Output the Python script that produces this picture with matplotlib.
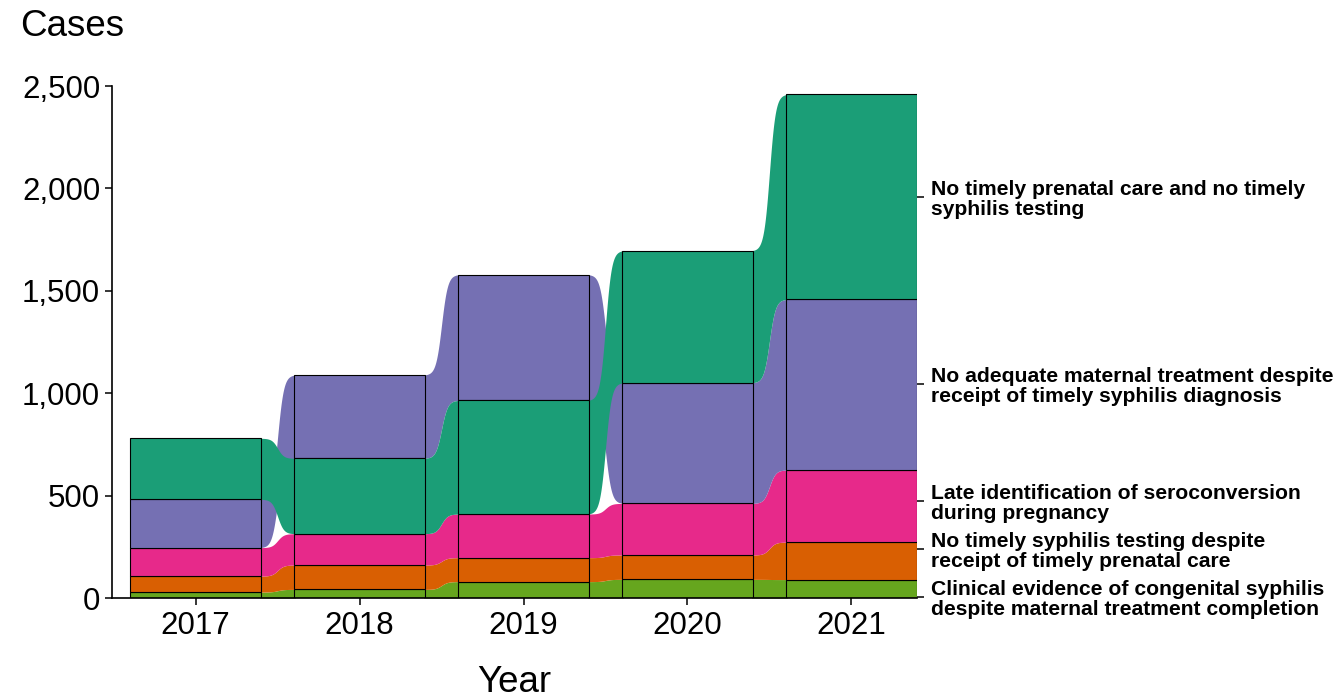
import numpy as np
import matplotlib.pyplot as plt
from matplotlib.ticker import FuncFormatter

plt.rcParams['font.family'] = ['Liberation Sans', 'DejaVu Sans']

years = [2017, 2018, 2019, 2020, 2021]
categories = [
    "Clinical evidence of congenital syphilis\ndespite maternal treatment completion",
    "No timely syphilis testing despite\nreceipt of timely prenatal care",
    "Late identification of seroconversion\nduring pregnancy",
    "No adequate maternal treatment despite\nreceipt of timely syphilis diagnosis",
    "No timely prenatal care and no timely\nsyphilis testing",
]
clinical = [29, 42, 80, 91, 90]
no_testing = [78, 119, 117, 119, 183]
late_id = [139, 153, 213, 252, 352]
no_treatment = [236, 407, 614, 589, 833]
no_prenatal = [298, 368, 555, 645, 1001]
colors = ['#66a61e', '#d95f02', '#e7298a', '#7570b3', '#1b9e77']

# where the right-hand labels sit (repelled a bit at the bottom)
label_pos = [4, 239, 474, 1045, 1958]

vals = np.array([clinical, no_testing, late_id, no_treatment, no_prenatal], dtype=float)
n_cat, n_yr = vals.shape

# stack each year smallest at the bottom, largest on top
bottoms = np.zeros_like(vals)
for j in range(n_yr):
    order = np.argsort(vals[:, j], kind='stable')
    acc = 0
    for i in order:
        bottoms[i, j] = acc
        acc += vals[i, j]
tops = bottoms + vals

fig = plt.figure(figsize=(13.41, 6.98), dpi=100)
ax = fig.add_axes([112 / 1341, 100 / 698, 805 / 1341, 512 / 698])

w = 0.8
t = np.linspace(0, 1, 300)
k = 12
s = 1 / (1 + np.exp(-k * (t - 0.5)))
s = (s - s[0]) / (s[-1] - s[0])

# flows between the bars
for i in range(n_cat):
    for j in range(n_yr - 1):
        x0 = years[j] + w / 2 - 0.01
        x1 = years[j + 1] - w / 2 + 0.01
        xs = x0 + (x1 - x0) * t
        lo = bottoms[i, j] + (bottoms[i, j + 1] - bottoms[i, j]) * s
        hi = tops[i, j] + (tops[i, j + 1] - tops[i, j]) * s
        ax.fill_between(xs, lo, hi, color=colors[i], linewidth=0, zorder=1)

# strata
for i in range(n_cat):
    ax.bar(years, vals[i], bottom=bottoms[i], width=w, color=colors[i],
           edgecolor='black', linewidth=0.8, zorder=2)

ax.set_xlim(2016.49, 2021.40)
ax.set_ylim(0, 2500)
ax.set_xticks(years)
ax.set_yticks([0, 500, 1000, 1500, 2000, 2500])
ax.yaxis.set_major_formatter(FuncFormatter(lambda v, p: f'{int(v):,}'))
ax.tick_params(labelsize=22.5, length=5, width=1.1, pad=3.5)
ax.tick_params(axis='x', pad=4)
for sp in ['top', 'right']:
    ax.spines[sp].set_visible(False)
for sp in ['left', 'bottom']:
    ax.spines[sp].set_linewidth(1.2)
ax.set_xlabel('Year', fontsize=26.5, labelpad=18)

ax2 = ax.twinx()
ax2.set_ylim(0, 2500)
ax2.set_yticks(label_pos)
ax2.set_yticklabels(categories, fontsize=15.2, fontweight='bold', linespacing=1.05)
ax2.tick_params(length=5, width=1.1, pad=5)
for sp in ax2.spines.values():
    sp.set_visible(False)

fig.text(20 / 1341, 1 - 27 / 698, 'Cases', fontsize=26.5, va='center', ha='left')

fig.savefig('out.png', dpi=100)
